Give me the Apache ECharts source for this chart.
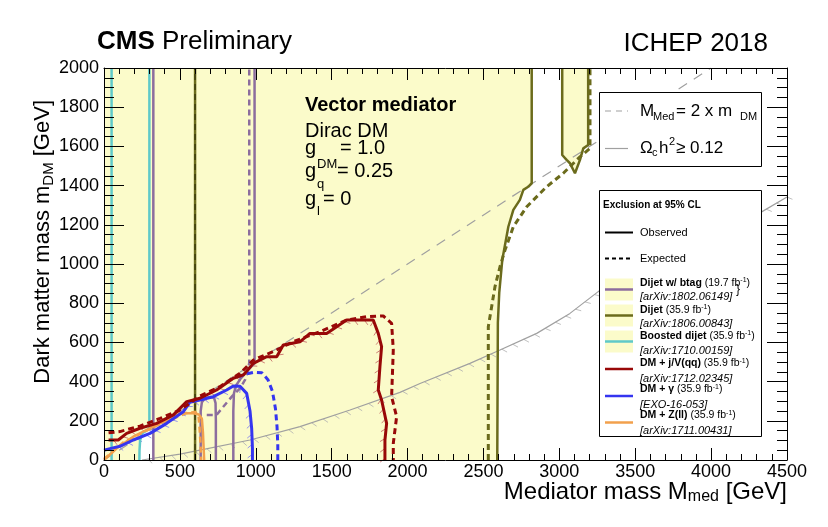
<!DOCTYPE html>
<html><head><meta charset="utf-8">
<script src="https://cdn.jsdelivr.net/npm/echarts@6/dist/echarts.min.js"></script>
<style>html,body{margin:0;padding:0;background:#fff}#c{width:828px;height:527px}</style>
</head><body><div id="c"></div>
<script>
// ---- axis ranges / ticks ----
const xRange = [0, 4500], xStep = 500;
const yRange = [0, 2000], yStep = 200;

// ---- exclusion regions (filled) ----
const yellowRegion = [[0,0],[0,2000],[2818,2000],[2818,1412],[2795,1394],[2763,1378],[2740,1327],[2697,1276],[2664,1190],[2624,1020],[2604,852],[2595,700],[2591,0]];
const dijetIsland = [[3019,2000],[3019,1556],[3048,1531],[3070,1514],[3103,1463],[3136,1531],[3158,1590],[3190,1607],[3190,2000]];
const whitePatch = [[236,0],[236,100],[250,136],[280,150],[299,165],[325,170],[325,0]];

// ---- reference lines ----
const diagLine = [[0,0],[4000,2000]];
const relicLine = [[250,0],[500,30],[632,50],[962,102],[1291,170],[1621,255],[1950,345],[2082,390],[2411,493],[2609,561],[2851,646],[3070,748],[3256,859],[3600,1000],[4000,1150],[4333,1266],[4500,1342]];

// ---- Dijet (olive) ----
const dijetObsLeft = [[600,0],[600,2000]];
const dijetObsRight = [[2591,0],[2595,700],[2604,852],[2624,1020],[2664,1190],[2697,1276],[2740,1327],[2763,1378],[2795,1394],[2818,1412],[2818,2000]];
const dijetExpRight = [[2532,0],[2532,680],[2554,782],[2576,884],[2609,986],[2642,1071],[2697,1190],[2785,1292],[2916,1394],[3026,1463],[3136,1547],[3202,1590],[3202,2000]];

// ---- Boosted dijet (cyan) ----
const boostedLeft = [[50,0],[50,2000]];
const boostedRight = [[299,2000],[299,165],[280,150],[250,136],[238,100],[234,50],[233,0]];

// ---- Dijet w/ btag (purple) ----
const btagLeft = [[325,0],[325,2000]];
const btagArchA = [[637,0],[637,250],[645,295],[665,315],[700,322],[725,318],[735,290],[737,200],[737,0]];
const btagObsB = [[852,0],[852,250],[856,340],[870,380],[900,415],[940,451],[975,480],[992,493],[992,2000]];
const btagExp = [[677,230],[742,230],[786,272],[852,332],[896,366],[930,410],[950,465],[957,495],[957,2000]];

// ---- DM + j/V(qq) (dark red) ----
const monoJObs = [[30,102],[94,102],[149,136],[237,162],[347,187],[457,230],[545,298],[632,315],[742,357],[852,417],[918,434],[984,493],[1072,527],[1138,527],[1181,587],[1291,603],[1357,646],[1467,646],[1533,680],[1599,714],[1774,714],[1807,646],[1829,578],[1818,476],[1807,357],[1829,306],[1862,187],[1851,102],[1851,0]];
const monoJExp = [[30,139],[105,145],[237,173],[369,212],[501,255],[632,326],[764,374],[896,442],[984,510],[1115,553],[1247,604],[1423,655],[1599,714],[1730,731],[1840,735],[1895,697],[1906,561],[1895,323],[1928,221],[1906,85],[1906,0]];

// ---- DM + gamma (blue) ----
const photonObs = [[0,50],[40,58],[105,70],[193,102],[303,136],[413,187],[522,246],[566,295],[632,306],[720,323],[808,357],[852,378],[896,376],[940,340],[962,250],[973,160],[978,60],[978,0]];
const photonExp = [[880,425],[940,440],[990,448],[1040,445],[1080,410],[1110,350],[1130,260],[1140,170],[1145,80],[1145,0]];

// ---- DM + Z(ll) (orange) ----
const zllObs = [[0,0],[84,60],[193,119],[303,162],[413,204],[501,238],[589,238],[625,232],[645,210],[652,140],[656,70],[660,0]];
const zllExp = [[0,5],[127,90],[347,175],[545,240],[600,245],[622,228],[630,160],[636,80],[640,0]];

const FONT = '"Liberation Sans", Arial, Helvetica, sans-serif';
const YELLOW = '#fbfbca';
const C = {purple:'#8c6d9e', olive:'#6b6b1c', cyan:'#5fc9c9', red:'#980808', blue:'#3535f0', orange:'#f2a04c', grey:'#a0a0a0'};

function poly(points, fill, z) {
  return {type:'custom', coordinateSystem:'cartesian2d', data:[[0,0]], silent:true, z:z, animation:false,
    renderItem:(p, api) => ({type:'polygon', shape:{points: points.map(pt => api.coord(pt))}, style:{fill:fill}})};
}
// hatch marks along a contour (excluded side), computed in pixel space from the axis scales
function hatch(points, color, width, spacing, len, z) {
  return {type:'custom', coordinateSystem:'cartesian2d', data:[[0,0]], silent:true, z:z||2.5, animation:false,
    renderItem:(p, api) => {
      const px = points.map(pt => api.coord(pt));
      const kids = [];
      let carry = spacing / 2;
      for (let i = 0; i < px.length - 1; i++) {
        const a = px[i], b = px[i+1];
        const dx = b[0]-a[0], dy = b[1]-a[1];
        const segLen = Math.hypot(dx, dy);
        if (segLen < 0.01) continue;
        const ux = dx/segLen, uy = dy/segLen;
        const nx = -uy, ny = ux;
        let t = carry;
        while (t < segLen) {
          const sx = a[0] + ux*t, sy = a[1] + uy*t;
          kids.push({type:'line', shape:{x1:sx, y1:sy, x2:sx + (nx*0.8 + ux*0.6)*len, y2:sy + (ny*0.8 + uy*0.6)*len},
            style:{stroke:color, lineWidth:width}});
          t += spacing;
        }
        carry = t - segLen;
      }
      return {type:'group', children:kids};
    }};
}
function L(data, color, width, dash, z) {
  return {type:'line', data:data, symbol:'none', showSymbol:false, silent:true, animation:false, z:z||3,
    lineStyle:{color:color, width:width, type: dash ? dash : 'solid'}};
}

const DASH = [6,4];
const series = [
  poly(yellowRegion, YELLOW, 1),
  poly(dijetIsland, YELLOW, 1),
  poly(whitePatch, '#ffffff', 1),
  L(diagLine, C.grey, 1.2, [10,8], 2),
  L(relicLine, C.grey, 1.2, null, 2),
  hatch(relicLine, '#b0b0b0', 0.8, 12, 6, 2),
  hatch(monoJObs, '#c06060', 0.8, 10, 6, 2.5),
  hatch(photonObs, '#7a7af0', 0.8, 10, 6, 2.5),
  L(boostedLeft, C.cyan, 2.5),
  L(boostedRight, C.cyan, 2.5),
  L(btagLeft, C.purple, 2.5),
  L(btagArchA, C.purple, 2.5),
  L(btagObsB, C.purple, 2.5),
  L(btagExp, C.purple, 2.5, DASH),
  L(dijetObsLeft, C.olive, 2.5),
  L(dijetObsLeft, '#3c3c10', 1.5, DASH),
  L(dijetObsRight, C.olive, 2.5),
  L(dijetIsland, C.olive, 2.5),
  L(dijetExpRight, C.olive, 3, DASH),
  L(zllObs, C.orange, 2.5),
  L(zllExp, C.orange, 2.5, DASH),
  L(photonObs, C.blue, 3),
  L(photonExp, C.blue, 3, DASH),
  L(monoJObs, C.red, 3),
  L(monoJExp, C.red, 3, DASH)
];

// ---- annotations (graphic) ----
const G = [];
function T(x, y, text, font, extra) {
  G.push({type:'text', x:x, y:y, z:100, silent:true,
    style:Object.assign({text:text, font:font, fill:'#000', align:'left', verticalAlign:'middle'}, extra||{})});
}
function Ln(x1, y1, x2, y2, color, w, dash) {
  G.push({type:'line', z:99, silent:true, shape:{x1:x1,y1:y1,x2:x2,y2:y2}, style:{stroke:color, lineWidth:w, lineDash:dash||null}});
}
function R(x, y, w, h, fill, stroke, z) {
  G.push({type:'rect', z:z||98, silent:true, shape:{x:x,y:y,width:w,height:h}, style:{fill:fill, stroke:stroke||null, lineWidth:1}});
}

// header
T(97, 42, '{b|CMS} Preliminary', '26px ' + FONT, {rich:{b:{font:'bold 26px ' + FONT}}});
T(768, 44, 'ICHEP 2018', '26px ' + FONT, {align:'right'});

// model text
T(305, 105, 'Vector mediator', 'bold 20px ' + FONT);
T(305, 131, 'Dirac DM', '20px ' + FONT);
T(305, 148, 'g', '20px ' + FONT); T(340, 148, '= 1.0', '20px ' + FONT); T(317, 164, 'DM', '13px ' + FONT);
T(305, 171.5, 'g', '20px ' + FONT); T(337, 171.5, '= 0.25', '20px ' + FONT); T(317, 184, 'q', '13px ' + FONT);
T(305, 199, 'g', '20px ' + FONT); T(323, 199, '= 0', '20px ' + FONT); T(317, 211, 'l', '13px ' + FONT);

// axis titles
T(787, 492, '{a|Mediator mass M}{s|med}{a| [GeV]}', '24px ' + FONT,
  {align:'right', rich:{a:{font:'24px ' + FONT, lineHeight:26, verticalAlign:'middle'}, s:{font:'16px ' + FONT, lineHeight:10, verticalAlign:'bottom'}}});
G.push({type:'text', x:43, y:100, rotation:Math.PI/2, z:100, silent:true,
  style:{text:'{a|Dark matter mass m}{s|DM}{a| [GeV]}', font:'22px ' + FONT, fill:'#000', align:'right', verticalAlign:'middle',
    rich:{a:{font:'22px ' + FONT, lineHeight:26, verticalAlign:'middle'}, s:{font:'15px ' + FONT, lineHeight:10, verticalAlign:'bottom'}}}});

// legend box 1
R(599.5, 92.5, 162, 74, '#fff', '#000');
Ln(605, 111, 628, 111, C.grey, 1.2, [6,5]);
T(640, 111, 'M', '17px ' + FONT); T(653, 117, 'Med', '11px ' + FONT);
T(676, 111, '= 2 x m', '17px ' + FONT); T(740, 117, 'DM', '11px ' + FONT);
Ln(605, 148.5, 628, 148.5, C.grey, 1.2);
T(640, 148.5, 'Ω', '17px ' + FONT); T(652, 153, 'c', '11px ' + FONT);
T(659, 148.5, 'h', '17px ' + FONT); T(669, 142, '2', '11px ' + FONT);
T(676, 148.5, '≥ 0.12', '17px ' + FONT);

// legend box 2
R(599.5, 190.5, 162, 246, '#fff', '#000');
T(603, 205, 'Exclusion at 95% CL', 'bold 10px ' + FONT);
Ln(605, 232.5, 633, 232.5, '#000', 2);
T(640, 232.5, 'Observed', '11px ' + FONT);
Ln(605, 258.5, 633, 258.5, '#000', 2, [4,3]);
T(640, 258.5, 'Expected', '11px ' + FONT);

const legNames = ['Dijet w/ btag', 'Dijet', 'Boosted dijet', 'DM + j/V(qq)', 'DM + γ', 'DM + Z(ll)'];
const legLumi = ['19.7', '35.9', '35.9', '35.9', '35.9', '35.9'];
const legRefs = ['[arXiv:1802.06149]', '[arXiv:1806.00843]', '[arXiv:1710.00159]', '[arXiv:1712.02345]', '[EXO-16-053]', '[arXiv:1711.00431]'];
const legColors = [C.purple, C.olive, C.cyan, C.red, C.blue, C.orange];
const legFilled = [true, true, true, false, false, false];
const legNameY = [283, 310, 336, 363.5, 389.5, 415.5];
const legRefY = [297, 324, 351, 378.5, 404.5, 431];
const legLineY = [289.5, 315.5, 341.5, 369, 396, 422.5];
for (let i = 0; i < legNames.length; i++) {
  if (legFilled[i]) R(605, legLineY[i] - 11, 28, 22, YELLOW, null, 98.5);
  Ln(605, legLineY[i], 633, legLineY[i], legColors[i], 2.5);
  T(640, legNameY[i], '{b|' + legNames[i] + '} (' + legLumi[i] + ' fb{s|-1})', '10.5px ' + FONT,
    {rich:{b:{font:'bold 10.5px ' + FONT, lineHeight:12, verticalAlign:'middle'}, s:{font:'7px ' + FONT, lineHeight:12, verticalAlign:'top'}}});
  T(640, legRefY[i], legRefs[i], 'italic 11px ' + FONT);
}
T(736, 290, '}', '12px ' + FONT);

const axisCommon = {
  axisLine:{show:true, onZero:false, lineStyle:{color:'#000', width:1}},
  splitLine:{show:false}, z:10
};
const plainNum = v => String(v);
const option = {
  animation:false,
  backgroundColor:'#fff',
  grid:{left:104, right:41, top:68, bottom:67, containLabel:false},
  xAxis:[
    Object.assign({type:'value', min:xRange[0], max:xRange[1], interval:xStep, position:'bottom',
      axisTick:{show:true, inside:true, length:12, lineStyle:{color:'#000', width:1}},
      minorTick:{show:true, splitNumber:5, length:6, lineStyle:{color:'#000', width:1}},
      axisLabel:{show:true, color:'#000', fontSize:18, fontFamily:FONT, margin:3, formatter:plainNum, showMinLabel:true, showMaxLabel:true}}, axisCommon),
    Object.assign({type:'value', min:xRange[0], max:xRange[1], interval:xStep, position:'top',
      axisTick:{show:true, inside:true, length:12, lineStyle:{color:'#000', width:1}},
      minorTick:{show:true, splitNumber:5, length:6, lineStyle:{color:'#000', width:1}},
      axisLabel:{show:false}}, axisCommon)
  ],
  yAxis:[
    Object.assign({type:'value', min:yRange[0], max:yRange[1], interval:yStep, position:'left',
      axisTick:{show:true, inside:true, length:20, lineStyle:{color:'#000', width:1}},
      minorTick:{show:true, splitNumber:4, length:10, lineStyle:{color:'#000', width:1}},
      axisLabel:{show:true, color:'#000', fontSize:18, fontFamily:FONT, margin:5, formatter:plainNum, showMinLabel:true, showMaxLabel:true}}, axisCommon),
    Object.assign({type:'value', min:yRange[0], max:yRange[1], interval:yStep, position:'right',
      axisTick:{show:true, inside:true, length:20, lineStyle:{color:'#000', width:1}},
      minorTick:{show:true, splitNumber:4, length:10, lineStyle:{color:'#000', width:1}},
      axisLabel:{show:false}}, axisCommon)
  ],
  series:series,
  graphic:G
};
const chart = echarts.init(document.getElementById('c'), null, {renderer:'canvas'});
chart.setOption(option);
</script>
</body></html>
